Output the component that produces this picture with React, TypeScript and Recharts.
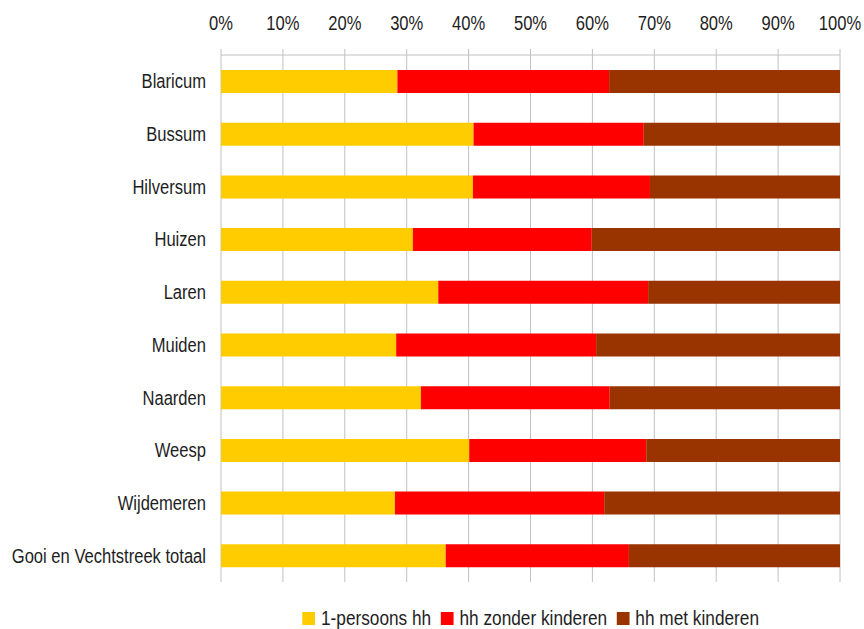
import { BarChart, Bar, XAxis, YAxis, CartesianGrid, Legend } from "recharts";

const gemeenten = [
  "Blaricum",
  "Bussum",
  "Hilversum",
  "Huizen",
  "Laren",
  "Muiden",
  "Naarden",
  "Weesp",
  "Wijdemeren",
  "Gooi en Vechtstreek totaal",
];
const eenPersoons = [28.5, 40.8, 40.7, 31.0, 35.1, 28.3, 32.3, 40.1, 28.1, 36.3];
const zonderKinderen = [34.2, 27.5, 28.6, 28.9, 33.9, 32.3, 30.5, 28.6, 33.8, 29.6];
const metKinderen = [37.3, 31.7, 30.7, 40.1, 31.0, 39.4, 37.2, 31.3, 38.1, 34.1];

const reeksen = [
  { key: "een", naam: "1-persoons hh", kleur: "#FFCC00" },
  { key: "zonder", naam: "hh zonder kinderen", kleur: "#FF0000" },
  { key: "met", naam: "hh met kinderen", kleur: "#993300" },
];

const xTicks = [0, 0.1, 0.2, 0.3, 0.4, 0.5, 0.6, 0.7, 0.8, 0.9, 1];
const randen = [0, 1, 2, 3, 4, 5, 6, 7, 8, 9, 10];

const data = gemeenten.map((naam, i) => ({
  naam,
  een: eenPersoons[i],
  zonder: zonderKinderen[i],
  met: metKinderen[i],
}));

const font = "'Liberation Sans', Arial, sans-serif";
const grijs = "#c0c0c0";
const tekstKleur = "#1e1e1e";
const smal = 0.85;

// Arial Narrow nabootsen: gewone Liberation Sans, horizontaal samengedrukt
function XTick(props: any) {
  const { x, y, payload } = props;
  return (
    <text
      transform={`translate(${x},${y}) scale(${smal},1)`}
      textAnchor="middle"
      fill={tekstKleur}
      fontSize={19.5}
      fontFamily={font}
    >
      {`${Math.round(payload.value * 100)}%`}
    </text>
  );
}

function YTick(props: any) {
  const { x, y, payload } = props;
  return (
    <text
      transform={`translate(${x},${y}) scale(${smal},1)`}
      textAnchor="end"
      dy="0.36em"
      fill={tekstKleur}
      fontSize={19.5}
      fontFamily={font}
    >
      {payload.value}
    </text>
  );
}

function Legenda() {
  return (
    <div
      style={{
        display: "flex",
        justifyContent: "center",
        alignItems: "center",
        height: 21,
        transform: `scaleX(${smal})`,
        fontFamily: font,
        fontSize: 20.3,
        color: tekstKleur,
        whiteSpace: "nowrap",
      }}
    >
      {reeksen.map((r, i) => (
        <span
          key={r.key}
          style={{ display: "inline-flex", alignItems: "center", marginRight: i < reeksen.length - 1 ? 11 : 0 }}
        >
          <span style={{ display: "inline-block", width: 13 / smal, height: 13, background: r.kleur, marginRight: 7 }} />
          {r.naam}
        </span>
      ))}
    </div>
  );
}

export default function App() {
  return (
    <div style={{ position: "absolute", left: 0, top: 0, width: 864, height: 629, background: "#fff" }}>
      <BarChart
        width={864}
        height={629}
        data={data}
        layout="vertical"
        stackOffset="expand"
        barSize={23}
        margin={{ top: 0, right: 24, bottom: 0, left: 0 }}
      >
        <CartesianGrid horizontal={false} stroke={grijs} yAxisId="cat" />
        <XAxis
          type="number"
          orientation="top"
          domain={[0, 1]}
          ticks={xTicks}
          height={55}
          stroke={grijs}
          tickSize={6}
          tickMargin={19}
          tick={<XTick />}
          interval={0}
        />
        <YAxis
          yAxisId="randen"
          type="number"
          domain={[0, 10]}
          ticks={randen}
          width={0}
          tick={false}
          tickSize={6}
          stroke={grijs}
        />
        <YAxis
          yAxisId="cat"
          type="category"
          dataKey="naam"
          width={221}
          axisLine={false}
          tickLine={false}
          tickMargin={9}
          tick={<YTick />}
          interval={0}
        />
        {reeksen.map((r) => (
          <Bar
            key={r.key}
            yAxisId="cat"
            dataKey={r.key}
            name={r.naam}
            stackId="a"
            fill={r.kleur}
            isAnimationActive={false}
          />
        ))}
        <Legend
          verticalAlign="bottom"
          content={<Legenda />}
          wrapperStyle={{ paddingTop: 26, left: 221, width: 619 }}
        />
      </BarChart>
    </div>
  );
}
